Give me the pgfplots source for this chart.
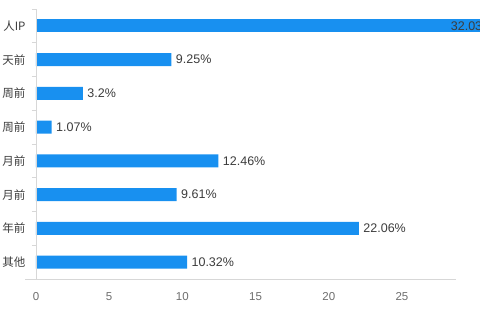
\documentclass[border=0pt]{standalone}
\usepackage{pgfplots}
\pgfplotsset{compat=1.18}
\usepackage{fontspec}
\setmainfont{Liberation Sans}
\newfontfamily\cjk{Noto Sans CJK SC}
\definecolor{barblue}{RGB}{24,144,240}
\definecolor{axgray}{RGB}{215,215,215}
\definecolor{tickgray}{RGB}{110,110,110}
\definecolor{lblgray}{RGB}{60,60,60}
\begin{document}
\begin{tikzpicture}[x=1pt,y=1pt]
\begin{axis}[
  at={(36pt,41pt)}, anchor=south west,
  scale only axis, width=444pt, height=270pt,
  xmin=0, xmax=30.33,
  ymin=-0.5, ymax=7.5, y dir=reverse,
  axis lines*=left,
  axis line style={draw=none},
  xtick={0,5,10,15,20,25},
  ytick={0,...,7},
  yticklabels={人IP,天前,周前,周前,月前,月前,年前,其他},
  major tick length=0pt,
  /pgf/number format/assume math mode=true,
  xticklabel style={font=\fontsize{11.5}{13}\selectfont, text=tickgray},
  yticklabel style={font=\cjk\fontsize{11.5}{13}\selectfont, text=lblgray},
  xticklabel shift=10pt,
  yticklabel shift=7pt,
  clip=false,
  xbar, bar width=13pt, bar shift=0pt,
  point meta=explicit symbolic,
  nodes near coords={\pgfplotspointmeta\%},
  nodes near coords style={font=\fontsize{12.5}{14}\selectfont, text=lblgray, anchor=west, xshift=1pt},
]
\addplot[fill=barblue, draw=none] coordinates {
 (9.25,1) [9.25]
 (3.2,2) [3.2]
 (1.07,3) [1.07]
 (12.46,4) [12.46]
 (9.61,5) [9.61]
 (22.06,6) [22.06]
 (10.32,7) [10.32]
};
\addplot[fill=barblue, draw=none, nodes near coords={}] coordinates {(32.03,0) [x]};
\draw[axgray, line width=0.8pt] (axis cs:0,-0.5) -- (axis cs:0,7.5);
\draw[axgray, line width=0.8pt] (axis cs:-0.75,7.5) -- (axis cs:28.7,7.5);
\draw[axgray, line width=0.8pt] (axis cs:-0.28,-0.5) -- (axis cs:0,-0.5);
\draw[axgray, line width=0.8pt] (axis cs:-0.28,0.5) -- (axis cs:0,0.5);
\draw[axgray, line width=0.8pt] (axis cs:-0.28,1.5) -- (axis cs:0,1.5);
\draw[axgray, line width=0.8pt] (axis cs:-0.28,2.5) -- (axis cs:0,2.5);
\draw[axgray, line width=0.8pt] (axis cs:-0.28,3.5) -- (axis cs:0,3.5);
\draw[axgray, line width=0.8pt] (axis cs:-0.28,4.5) -- (axis cs:0,4.5);
\draw[axgray, line width=0.8pt] (axis cs:-0.28,5.5) -- (axis cs:0,5.5);
\draw[axgray, line width=0.8pt] (axis cs:-0.28,6.5) -- (axis cs:0,6.5);
\node[anchor=west, font=\fontsize{12.5}{14}\selectfont, text=lblgray] at (axis cs:28.1,0) {32.03\%};
\end{axis}
\pgfresetboundingbox
\useasboundingbox (0,0) rectangle (480,320);
\end{tikzpicture}
\end{document}
